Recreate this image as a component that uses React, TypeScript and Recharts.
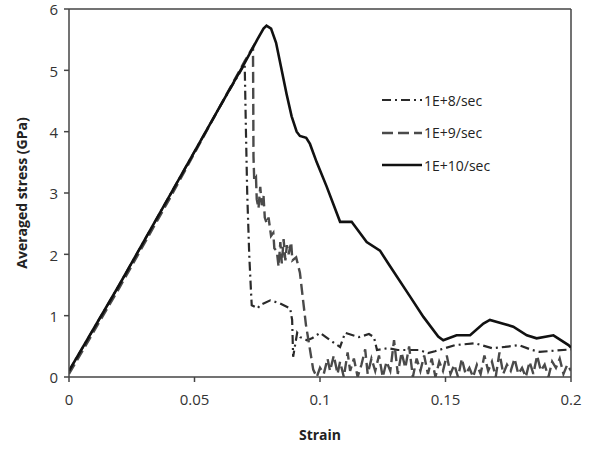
import { Line, LineChart, ReferenceLine, XAxis, YAxis, Label } from "recharts";

// 1E+8/sec (dash-dot)
const strain8 = [0, 0.02, 0.04, 0.06, 0.07, 0.0705, 0.071, 0.0718, 0.0725, 0.0728, 0.0752, 0.076, 0.0802, 0.0841, 0.0881, 0.0889, 0.0893, 0.0909, 0.0921, 0.0948, 0.0968, 0.1, 0.104, 0.108, 0.11, 0.1155, 0.1195, 0.1215, 0.1227, 0.127, 0.131, 0.136, 0.1395, 0.143, 0.1458, 0.1498, 0.1538, 0.1618, 0.1685, 0.1737, 0.1793, 0.1845, 0.1875, 0.2];
const stress8 = [0.1, 1.5, 2.95, 4.4, 5.1, 4.0, 3.0, 2.0, 1.4, 1.17, 1.12, 1.17, 1.25, 1.2, 1.12, 0.93, 0.33, 0.72, 0.65, 0.6, 0.63, 0.72, 0.6, 0.49, 0.72, 0.65, 0.7, 0.65, 0.44, 0.47, 0.44, 0.44, 0.44, 0.39, 0.42, 0.47, 0.52, 0.55, 0.47, 0.49, 0.52, 0.44, 0.41, 0.45];

// 1E+9/sec (dashed)
const strain9 = [0, 0.02, 0.04, 0.06, 0.07, 0.0733, 0.0734, 0.0735, 0.0738, 0.0745, 0.0748, 0.0755, 0.0762, 0.0768, 0.0775, 0.078, 0.0788, 0.0795, 0.0805, 0.0814, 0.0818, 0.0828, 0.0835, 0.0842, 0.0848, 0.0855, 0.0862, 0.0868, 0.0875, 0.0885, 0.089, 0.0905, 0.092, 0.0934, 0.0944, 0.0954, 0.0973, 0.0987,
  0.1, 0.1015, 0.103, 0.104, 0.1055, 0.107, 0.108, 0.1095, 0.111, 0.112, 0.1135, 0.115, 0.1165, 0.118, 0.119, 0.1205, 0.122, 0.1235, 0.125, 0.1265, 0.128, 0.1295, 0.131, 0.1325, 0.134, 0.1355, 0.137, 0.1385, 0.14, 0.1415, 0.143, 0.1445, 0.146, 0.1475, 0.149, 0.1505, 0.152, 0.1535, 0.155, 0.1565, 0.158, 0.1595, 0.161, 0.1625, 0.164, 0.1655, 0.167, 0.1685, 0.17, 0.1715, 0.173, 0.1745, 0.176, 0.1775, 0.179, 0.1805, 0.182, 0.1835, 0.185, 0.1865, 0.188, 0.1895, 0.191, 0.1925, 0.194, 0.1955, 0.197, 0.1985, 0.2];
const stress9 = [0.05, 1.45, 2.9, 4.4, 5.15, 5.38, 4.6, 3.6, 3.2, 3.25, 2.9, 2.75, 3.1, 2.8, 2.95, 2.6, 2.5, 2.6, 2.3, 2.35, 2.1, 2.05, 1.8, 2.2, 1.85, 2.25, 1.9, 2.15, 2.0, 2.2, 1.9, 1.95, 1.7, 1.2, 0.85, 0.6, 0.12, 0.0,
  0.15, 0.05, 0.3, 0.1, 0.35, 0.05, 0.25, 0.0, 0.4, 0.1, 0.3, 0.0, 0.2, 0.45, 0.05, 0.3, 0.1, 0.35, 0.0, 0.25, 0.1, 0.6, 0.05, 0.4, 0.15, 0.5, 0.0, 0.3, 0.1, 0.35, 0.05, 0.3, 0.0, 0.25, 0.1, 0.35, 0.05, 0.2, 0.0, 0.3, 0.05, 0.15, 0.0, 0.2, 0.05, 0.35, 0.1, 0.25, 0.0, 0.4, 0.05, 0.2, 0.1, 0.3, 0.05, 0.15, 0.0, 0.25, 0.05, 0.35, 0.1, 0.2, 0.0, 0.25, 0.15, 0.3, 0.05, 0.2, 0.1];

// 1E+10/sec (solid)
const strain10 = [0, 0.02, 0.04, 0.06, 0.07, 0.075, 0.0775, 0.0787, 0.0805, 0.0825, 0.0845, 0.0867, 0.0887, 0.0907, 0.092, 0.0945, 0.096, 0.0987, 0.1027, 0.108, 0.1126, 0.1186, 0.1239, 0.1272, 0.1359, 0.1412, 0.1471, 0.1491, 0.1544, 0.1598, 0.1651, 0.1677, 0.173, 0.177, 0.1824, 0.1863, 0.193, 0.199, 0.2];
const stress10 = [0.1, 1.5, 2.95, 4.4, 5.12, 5.5, 5.68, 5.73, 5.68, 5.45, 5.05, 4.61, 4.25, 4.0, 3.93, 3.9, 3.8, 3.5, 3.1, 2.53, 2.53, 2.2, 2.06, 1.85, 1.31, 0.98, 0.66, 0.6, 0.68, 0.68, 0.87, 0.93, 0.87, 0.82, 0.68, 0.63, 0.68, 0.52, 0.48];

const xTicks = [0, 0.05, 0.1, 0.15, 0.2];
const yTicks = [0, 1, 2, 3, 4, 5, 6];

const toPoints = (xs: number[], ys: number[]) => xs.map((x, i) => ({ x, y: ys[i] }));

const series = [
  { name: "1E+8/sec", data: toPoints(strain8, stress8), color: "#2a2a2a", dash: "9 4 2 4", width: 2.2 },
  { name: "1E+9/sec", data: toPoints(strain9, stress9), color: "#4a4a4a", dash: "11 5", width: 2.4 },
  { name: "1E+10/sec", data: toPoints(strain10, stress10), color: "#111111", dash: undefined, width: 2.6 },
];

const font = "'Open Sans', sans-serif";
const axisColor = "#444";

function LegendBox() {
  return (
    <div style={{ position: "absolute", left: 382, top: 84, fontFamily: font, fontSize: 14, color: "#222" }}>
      {series.map((s) => (
        <div key={s.name} style={{ display: "flex", alignItems: "center", height: 32.5 }}>
          <svg width={40} height={6}>
            <line x1={0} y1={3} x2={40} y2={3} stroke={s.color} strokeWidth={s.width} strokeDasharray={s.dash} />
          </svg>
          <span style={{ marginLeft: 2 }}>{s.name}</span>
        </div>
      ))}
    </div>
  );
}

export default function App() {
  return (
    <div style={{ position: "fixed", left: 0, top: 0, width: 593, height: 451, background: "#fff" }}>
      <LineChart width={593} height={451} margin={{ top: 9, right: 22, bottom: 44, left: 20 }}>
        <XAxis
          type="number"
          dataKey="x"
          domain={[0, 0.2]}
          ticks={xTicks}
          allowDataOverflow
          stroke={axisColor}
          strokeWidth={1.5}
          tickSize={5}
          tick={{ fill: "#333", fontSize: 15, fontFamily: font, dy: 10 }}
          height={30}
        >
          <Label value="Strain" position="insideBottom" offset={-33} style={{ fontFamily: font, fontWeight: 700, fontSize: 14, fill: "#222" }} />
        </XAxis>
        <YAxis
          type="number"
          dataKey="y"
          domain={[0, 6]}
          ticks={yTicks}
          allowDataOverflow
          stroke={axisColor}
          strokeWidth={1.5}
          tickSize={5}
          width={49}
          tick={{ fill: "#333", fontSize: 15, fontFamily: font, dy: 1, dx: -4 }}
        >
          <Label value="Averaged stress (GPa)" angle={-90} position="insideLeft" offset={2} style={{ fontFamily: font, fontWeight: 700, fontSize: 14, fill: "#222", textAnchor: "middle" }} />
        </YAxis>
        <ReferenceLine y={6} stroke={axisColor} strokeWidth={1.5} />
        <ReferenceLine x={0.2} stroke={axisColor} strokeWidth={1.5} />
        {series.map((s) => (
          <Line
            key={s.name}
            data={s.data}
            dataKey="y"
            name={s.name}
            type="linear"
            stroke={s.color}
            strokeWidth={s.width}
            strokeDasharray={s.dash}
            dot={false}
            activeDot={false}
            isAnimationActive={false}
          />
        ))}
      </LineChart>
      <LegendBox />
    </div>
  );
}
